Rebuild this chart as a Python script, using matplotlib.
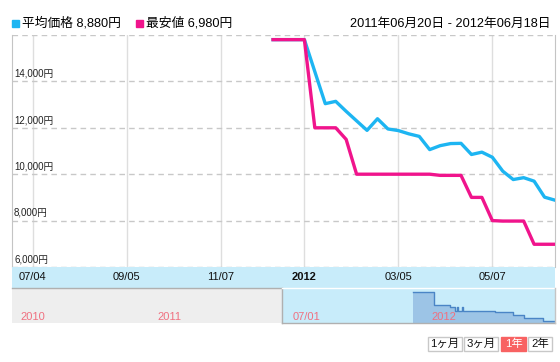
import matplotlib
matplotlib.use('Agg')
import matplotlib.pyplot as plt
import matplotlib.transforms as mtransforms
import matplotlib.dates as mdates
from matplotlib.patches import Rectangle
import pandas as pd

plt.rcParams['font.family'] = ['Liberation Sans', 'Noto Sans CJK JP']

# weekly prices
avg_dates = ['2011-12-12', '2012-01-02', '2012-01-16', '2012-01-23', '2012-01-30',
             '2012-02-13', '2012-02-20', '2012-02-27', '2012-03-05', '2012-03-12',
             '2012-03-19', '2012-03-26', '2012-04-02', '2012-04-09', '2012-04-16',
             '2012-04-23', '2012-04-30', '2012-05-07', '2012-05-14', '2012-05-21',
             '2012-05-28', '2012-06-04', '2012-06-11', '2012-06-18']
avg_prices = [15800, 15800, 13040, 13140, 12710,
              11890, 12390, 11950, 11880, 11740,
              11630, 11060, 11230, 11320, 11330,
              10850, 10950, 10730, 10130, 9770,
              9850, 9700, 9010, 8880]

min_dates = ['2011-12-12', '2012-01-02', '2012-01-09', '2012-01-23', '2012-01-30',
             '2012-02-06', '2012-03-26', '2012-04-02', '2012-04-16', '2012-04-23',
             '2012-04-30', '2012-05-07', '2012-05-14', '2012-05-28', '2012-06-04',
             '2012-06-18']
min_prices = [15800, 15800, 12000, 12000, 11500,
              10000, 10000, 9950, 9950, 9000,
              9000, 8000, 7980, 7980, 6980,
              6980]

# navigator series (daily changes of the lowest price)
nav_dates = ['2011-12-12', '2012-01-09', '2012-01-30', '2012-02-06', '2012-02-08',
             '2012-02-09', '2012-02-15', '2012-02-16', '2012-03-30', '2012-04-23',
             '2012-05-07', '2012-06-02', '2012-06-18']
nav_prices = [15800, 12000, 11500, 10000, 11400,
              10000, 11300, 10000, 9950, 9000,
              8000, 6980, 6980]

tick_dates = ['2011-07-04', '2011-09-05', '2011-11-07', '2012-01-02', '2012-03-05', '2012-05-07']
tick_labels = ['07/04', '09/05', '11/07', '2012', '03/05', '05/07']
nav_tick_dates = ['2010-07-03', '2011-01-01', '2011-07-01', '2012-01-01']
nav_tick_labels = ['2010', '2011', '07/01', '2012']
buttons = ['1ヶ月', '3ヶ月', '1年', '2年']

W, H = 560, 362
def fx(px):
    return px / W
def fy(py):
    return 1 - py / H

fig = plt.figure(figsize=(5.6, 3.62), dpi=100)

start, end = pd.Timestamp('2011-06-20'), pd.Timestamp('2012-06-18')

# main chart
ax = fig.add_axes([fx(12), fy(267), fx(555) - fx(12), fy(35) - fy(267)])
ax.plot(pd.to_datetime(avg_dates), avg_prices, color='#1db5f2', lw=2.4,
        solid_joinstyle='round', zorder=3)
ax.plot(pd.to_datetime(min_dates), min_prices, color='#f0148c', lw=2.4,
        solid_joinstyle='round', zorder=4)
ax.set_xlim(start, end)
ax.set_ylim(6000, 16000)
ax.set_xticks(pd.to_datetime(tick_dates))
ax.set_yticks(range(6000, 16001, 2000))
ax.grid(axis='x', color='#dedede', lw=1)
ax.grid(axis='y', color='#c8c8c8', lw=1, ls=(0, (4, 3)))
ax.tick_params(length=0, labelleft=False, labelbottom=False)
for s in ['top', 'bottom']:
    ax.spines[s].set_visible(False)
for s in ['left', 'right']:
    ax.spines[s].set_color('#c4c4c4')
for v in range(6000, 16000, 2000):
    ax.annotate(f'{v:,}円', xy=(0, v), xycoords=('axes fraction', 'data'),
                xytext=(1.5, 2), textcoords='offset points',
                fontsize=7, va='bottom', ha='left', color='#222222')

# date band
axb = fig.add_axes([fx(12), fy(288), fx(555) - fx(12), fy(267) - fy(288)])
axb.set_xlim(start, end)
axb.set_ylim(0, 1)
axb.axis('off')
axb.add_patch(Rectangle((0, 0), 1, 1, transform=axb.transAxes, color='#c8ecfa', zorder=0))
trans_b = mtransforms.blended_transform_factory(axb.transData, axb.transAxes)
for d, lbl in zip(mdates.date2num(pd.to_datetime(tick_dates)), tick_labels):
    axb.text(d, 0.5, lbl, transform=trans_b, ha='center', va='center', fontsize=8,
             fontweight='bold' if lbl == '2012' else 'normal', color='#111111')

# navigator
axn = fig.add_axes([fx(12), fy(323), fx(555) - fx(12), fy(288) - fy(323)])
nav_start = pd.Timestamp('2010-06-25')
axn.set_xlim(nav_start, end)
axn.set_ylim(6494, 17137)
axn.axis('off')
axn.axvspan(nav_start, start, color='#eeeeee', zorder=0)
axn.axvspan(start, end, color='#c8ecfa', zorder=0)
nd = pd.to_datetime(nav_dates)
axn.fill_between(nd, nav_prices, 6494, step='post', color='#9cc4e6', lw=0, zorder=1)
axn.step(nd, nav_prices, where='post', color='#4a85c6', lw=1, zorder=2)
trans_n = mtransforms.blended_transform_factory(axn.transData, axn.transAxes)
for d, lbl in zip(mdates.date2num(pd.to_datetime(nav_tick_dates)), nav_tick_labels):
    axn.annotate(lbl, xy=(d, 0.17), xycoords=trans_n, xytext=(2, 0),
                 textcoords='offset points', fontsize=8, color='#f07080',
                 ha='left', va='center', zorder=5)
# navigator outline
s_n, st_n, e_n = mdates.date2num([nav_start, start, end])
axn.plot([s_n, st_n], [1, 1], transform=trans_n, color='#b0b0b0', lw=1, clip_on=False)
axn.plot([st_n, st_n], [0, 1], transform=trans_n, color='#b0b0b0', lw=1, clip_on=False)
axn.plot([st_n, e_n], [0, 0], transform=trans_n, color='#b0b0b0', lw=1, clip_on=False)
axn.plot([st_n, e_n], [1, 1], transform=trans_n, color='white', lw=1, clip_on=False)
axn.plot([e_n, e_n], [0, 1], transform=trans_n, color='#c4c4c4', lw=1, clip_on=False)

# header
fig.patches.append(Rectangle((fx(12), fy(27)), fx(7), 7 / H, transform=fig.transFigure,
                             color='#1db5f2'))
fig.text(fx(21.5), fy(23.5), '平均価格 8,880円', fontsize=9.2, va='center', ha='left')
fig.patches.append(Rectangle((fx(136), fy(27)), fx(7), 7 / H, transform=fig.transFigure,
                             color='#f0148c'))
fig.text(fx(145.5), fy(23.5), '最安値 6,980円', fontsize=9.2, va='center', ha='left')
fig.text(fx(551), fy(23.5), '2011年06月20日 - 2012年06月18日', fontsize=9.2,
         va='center', ha='right')

# range buttons
btn_x = [(428, 462), (464, 498), (501, 526), (528, 552)]
for (x0, x1), lbl in zip(btn_x, buttons):
    sel = lbl == '1年'
    fig.patches.append(Rectangle((fx(x0), fy(351)), fx(x1 - x0), 14 / H,
                                 transform=fig.transFigure,
                                 facecolor='#f86262' if sel else 'white',
                                 edgecolor='#f86262' if sel else '#c8c8c8', lw=1))
    fig.text(fx((x0 + x1) / 2), fy(344), lbl, fontsize=8.2, ha='center', va='center',
             color='white' if sel else '#111111')

fig.savefig('out.png', dpi=100)
